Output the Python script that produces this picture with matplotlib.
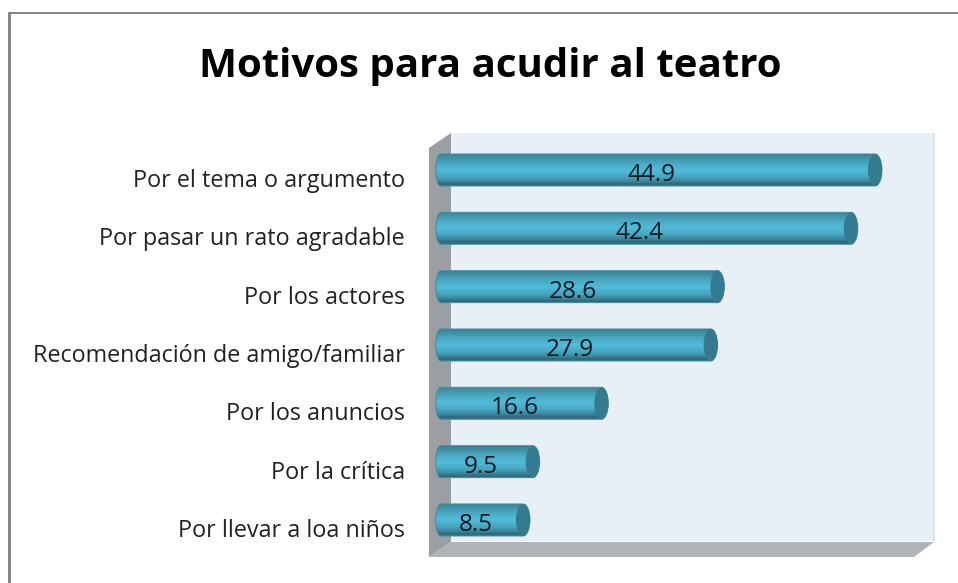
import numpy as np
import matplotlib
matplotlib.use("Agg")
import matplotlib.pyplot as plt
from matplotlib.colors import LinearSegmentedColormap
from matplotlib.patches import Ellipse, PathPatch, Polygon, Rectangle
from matplotlib.path import Path

title = "Motivos para acudir al teatro"
categories = ["Por el tema o argumento", "Por pasar un rato agradable", "Por los actores",
              "Recomendación de amigo/familiar", "Por los anuncios", "Por la crítica",
              "Por llevar a loa niños"]
values = [44.9, 42.4, 28.6, 27.9, 16.6, 9.5, 8.5]

W, H = 958, 583
PX_PER_UNIT = 9.67
X0, X1, Y0, Y1 = 440.8, 934, 133, 541
Y_FIRST, Y_STEP, BAR_H = 170, 58.33, 32

plt.rcParams['font.family'] = ['Open Sans', 'DejaVu Sans']
fig = plt.figure(figsize=(W / 100, H / 100), dpi=100, facecolor='white')

# chart chrome in pixel coordinates
bg = fig.add_axes([0, 0, 1, 1], zorder=0)
bg.set_xlim(0, W); bg.set_ylim(H, 0); bg.axis('off')
bg.add_patch(Rectangle((8, 12), 2.6, H, fc='#868686', ec='none'))
bg.add_patch(Rectangle((8, 12), W, 2.4, fc='#868686', ec='none'))
bg.add_patch(Rectangle((451, 133), 483, 408, fc='#e8eff6', ec='none'))
bg.add_patch(Rectangle((933, 133), 2, 408, fc='#dfe4e9', ec='none'))
bg.add_patch(Polygon([(429, 148), (451, 133), (451, 542), (429, 557)], fc='#9b9ea2', ec='none'))
bg.add_patch(Polygon([(429, 557), (451, 542), (934, 542), (914, 557)], fc='#b0b4b7', ec='none'))
bg.text(490, 67, title, ha='center', va='center', fontsize=29, fontweight='bold', color='black')

# data axes
ax = fig.add_axes([X0 / W, 1 - Y1 / H, (X1 - X0) / W, (Y1 - Y0) / H], zorder=1)
ax.patch.set_visible(False)
for s in ax.spines.values():
    s.set_visible(False)

ypos = np.arange(len(categories))
ax.set_xticks([])
ax.set_yticks(ypos + 8 / Y_STEP)
ax.set_yticklabels(categories, fontsize=16.8, color='#222222')
ax.tick_params(axis='y', length=0, pad=(X0 - 405) * 0.72)

cmap = LinearSegmentedColormap.from_list('cyl', [
    (0.0, '#3c7f90'), (0.10, '#3f8fa5'), (0.30, '#4aaac4'), (0.50, '#50bcda'),
    (0.70, '#49a8c2'), (0.85, '#3c8aa1'), (0.95, '#2e6777'), (1.0, '#34788a')])
grad = np.linspace(0, 1, 64).reshape(-1, 1)

bh = BAR_H / Y_STEP
lw = 5 / PX_PER_UNIT    # left-end half width
rw = 7 / PX_PER_UNIT    # right cap half width
K = 0.5523
for y, v in zip(ypos, values):
    t, b = y - bh / 2, y + bh / 2
    verts = [(0, t), (v, t), (v + rw * K, t), (v + rw, y - bh / 2 * K), (v + rw, y),
             (v + rw, y + bh / 2 * K), (v + rw * K, b), (v, b), (0, b),
             (-lw * K, b), (-lw, y + bh / 2 * K), (-lw, y),
             (-lw, y - bh / 2 * K), (-lw * K, t), (0, t), (0, t)]
    codes = [Path.MOVETO, Path.LINETO, Path.CURVE4, Path.CURVE4, Path.CURVE4,
             Path.CURVE4, Path.CURVE4, Path.CURVE4, Path.LINETO,
             Path.CURVE4, Path.CURVE4, Path.CURVE4,
             Path.CURVE4, Path.CURVE4, Path.CURVE4, Path.CLOSEPOLY]
    outline = Path(verts, codes)
    im = ax.imshow(grad, cmap=cmap, aspect='auto', extent=(-lw, v + rw, b, t),
                   interpolation='bilinear', zorder=2)
    im.set_clip_path(PathPatch(outline, transform=ax.transData))
    im.set_clip_box(fig.bbox)
    ax.add_patch(PathPatch(outline, fc='none', ec='#3f8ba0', lw=0.7, zorder=3, clip_on=False))
    ax.add_patch(Ellipse((v, y), 2 * rw, bh, fc='#357a8e', ec='none', zorder=4, clip_on=False))
    ax.annotate(f"{v:.1f}", (v / 2, y), xytext=(-4.3, -3.6), textcoords='offset points',
                ha='center', va='center', fontsize=17.5, color='#101820', zorder=5)

ax.set_xlim(0, (X1 - X0) / PX_PER_UNIT)
ax.set_ylim((Y1 - Y_FIRST) / Y_STEP, (Y0 - Y_FIRST) / Y_STEP)
fig.savefig('out.png', dpi=100, facecolor='white')
